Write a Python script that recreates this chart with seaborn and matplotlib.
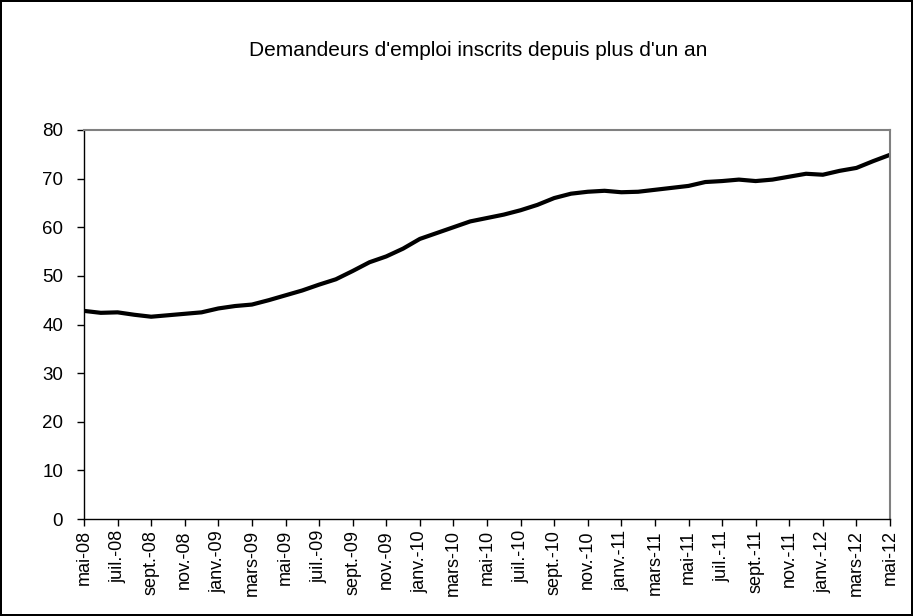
import numpy as np
import pandas as pd
import matplotlib
matplotlib.use("Agg")
import matplotlib.pyplot as plt
import seaborn as sns

# monthly series, mai-08 .. mai-12 (thousands)
months = ["mai", "juin", "juil.", "août", "sept.", "oct.", "nov.", "déc.",
          "janv.", "févr.", "mars", "avr."]
values = [42.8, 42.4, 42.5, 42.0, 41.6, 41.9, 42.2, 42.5, 43.3, 43.8,
          44.1, 45.0, 46.0, 47.0, 48.2, 49.3, 51.0, 52.8, 54.0, 55.6,
          57.6, 58.8, 60.0, 61.2, 61.9, 62.6, 63.5, 64.6, 66.0, 66.9,
          67.3, 67.5, 67.2, 67.3, 67.7, 68.1, 68.5, 69.3, 69.5, 69.8,
          69.5, 69.8, 70.4, 71.0, 70.8, 71.6, 72.2, 73.6, 74.9]

labels = []
for i in range(len(values)):
    yr = 8 + (i + 4) // 12
    labels.append(f"{months[i % 12]}-{yr:02d}")

df = pd.DataFrame({"idx": np.arange(len(values)), "val": values, "lab": labels})

sns.set_style("white")
plt.rcParams['font.family'] = ['Liberation Sans', 'DejaVu Sans']
plt.rcParams['text.color'] = 'black'
plt.rcParams['xtick.color'] = 'black'
plt.rcParams['ytick.color'] = 'black'

fig = plt.figure(figsize=(9.13, 6.16), dpi=100)
fig.patch.set_edgecolor('black')
fig.patch.set_linewidth(1.5)
ax = fig.add_axes([84/913, 97/616, 806/913, 389/616])

sns.lineplot(data=df, x="idx", y="val", color="black", linewidth=3, ax=ax)

ax.set_xlim(0, len(values) - 1)
ax.set_ylim(0, 80)
ax.set_yticks(range(0, 81, 10))
ax.set_xticks(df["idx"][::2])
ax.set_xticklabels(df["lab"][::2], rotation=90, fontsize=13)
ax.tick_params(axis='y', labelsize=13.5, pad=10)
ax.tick_params(axis='x', pad=3)
ax.tick_params(direction='out', length=5, width=1, color='black', bottom=True, left=True)
ax.set_xlabel("")
ax.set_ylabel("")

for s in ["top", "right"]:
    ax.spines[s].set_color("#808080")
    ax.spines[s].set_linewidth(1.5)
for s in ["left", "bottom"]:
    ax.spines[s].set_color("black")
    ax.spines[s].set_linewidth(1)

fig.text(478/913, 1 - 50/616, "Demandeurs d'emploi inscrits depuis plus d'un an",
         ha="center", va="center", fontsize=15)

fig.savefig("out.png", dpi=100, edgecolor=fig.get_edgecolor())
